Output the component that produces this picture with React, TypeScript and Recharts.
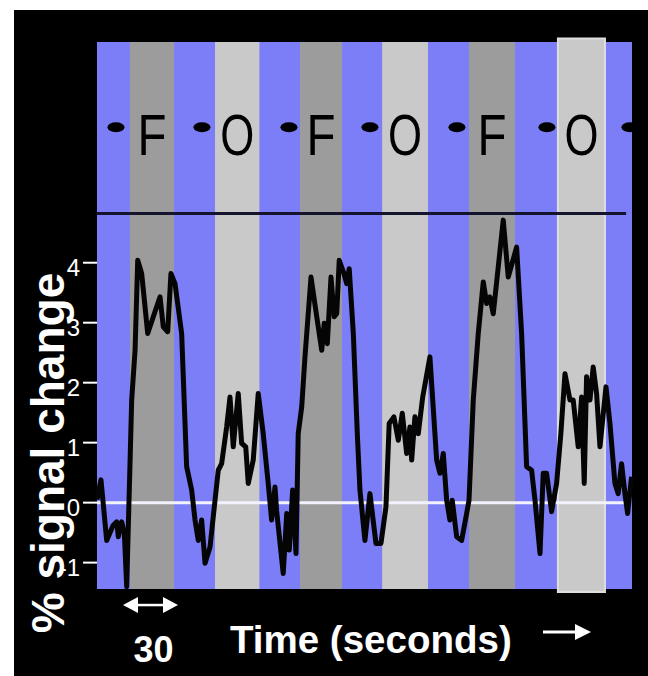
import React from 'react'
import { LineChart, Line, XAxis, YAxis, ReferenceArea, ReferenceLine, ReferenceDot } from 'recharts'

// time in seconds, % signal change
const times = [
  0, 2.7, 6.6, 10.9, 13.4, 14.5, 16.8, 18.6, 20.2, 22.4, 23.6, 25.9, 27.7, 30.4, 34.5, 38.3, 42.9, 45.1, 48.1, 50.3,
  53.1, 57.6, 61.0, 64.4, 66.7, 68.9, 71.2, 73.5, 76.9, 80.3, 82.5, 84.8, 88.2, 90.5, 92.7, 96.1, 98.4, 101.2, 102.9, 106.3,
  109.7, 113.1, 116.5, 118.8, 121.1, 122.2, 126.7, 129.1, 130.8, 133.1, 135.4, 136.9, 139.3, 141.5, 145.6, 149.5, 152.9, 154.6, 156.7, 159.2,
  161.4, 163.1, 164.8, 168.0, 169.9, 171.6, 174.4, 177.1, 178.9, 182.3, 185.7, 189.8, 193.2, 196.6, 198.8, 202.0, 205.0, 207.7, 210.7, 212.9,
  214.1, 216.3, 218.6, 221.6, 226.5, 231.1, 233.3, 235.6, 237.9, 240.1, 241.7, 244.7, 248.1, 251.5, 253.1, 256.0, 259.4, 262.8, 265.1, 267.3,
  269.6, 273.0, 276.4, 279.8, 285.5, 288.9, 292.3, 295.7, 298.0, 301.4, 303.6, 305.9, 309.3, 312.7, 315.6, 318.4, 321.8, 324.0, 327.4, 329.7,
  331.5, 333.1, 335.4, 337.6, 339.9, 342.2, 346.3, 349.0, 352.4, 354.6, 356.9, 359.2, 361.0, 363.7,
]
const signal = [
  0.05, 0.38, -0.63, -0.38, -0.32, -0.57, -0.32, -0.51, -1.4, 0.6, 1.71, 2.54, 4.04, 3.82, 2.82, 3.1, 3.43, 2.93, 2.85, 3.82,
  3.65, 2.82, 0.6, 0.21, -0.29, -0.63, -0.29, -1.01, -0.74, 0.04, 0.54, 0.65, 1.26, 1.76, 0.93, 1.82, 0.99, 0.93, 0.32, 0.71,
  1.82, 1.15, 0.32, -0.29, 0.26, -0.13, -1.18, -0.18, -0.79, 0.21, -0.85, 1.15, 1.6, 2.43, 3.76, 3.1, 2.54, 2.99, 2.65, 3.76,
  3.1, 3.15, 4.04, 3.82, 3.65, 3.9, 2.82, 1.15, 0.21, -0.63, 0.15, -0.68, -0.68, -0.07, 1.32, 1.43, 1.04, 1.49, 0.82, 1.26,
  0.71, 1.43, 1.15, 1.76, 2.43, 0.71, 0.49, 0.82, 0.04, -0.29, 0.04, -0.57, -0.63, -0.18, 0.04, 1.71, 2.82, 3.68, 3.32, 3.43,
  3.15, 3.93, 4.71, 3.76, 4.26, 2.82, 0.6, 0.54, 0.04, -0.85, 0.49, 0.49, -0.15, 0.32, 1.15, 2.15, 1.71, 1.71, 0.93, 1.76,
  0.32, 2.1, 1.71, 2.26, 1.82, 0.93, 1.93, 1.32, 0.32, 0.15, 0.65, 0.15, -0.18, 0.43,
]

// stimulus blocks (F / O) and rest markers
const blockLabels = ['F', 'O', 'F', 'O', 'F', 'O']
const blockStarts = [22.4, 80.3, 138.1, 194.0, 253.1, 313.6]
const blockEnds = [52.4, 110.5, 166.7, 225.2, 284.4, 345.6]
const restMarks = [12.9, 71.4, 130.6, 185.7, 244.9, 306.1, 362.6]

const yTicks = [-1, 0, 1, 2, 3, 4]
const timeDomain = [0, 364]
const signalDomain = [-1.44, 7.68]
const dividerLevel = 4.82
const lineEnd = 360
const labelLevel = 5.79
const markLevel = 6.26

const BLUE = '#7b7ef6'
const DARK = '#9c9c9c'
const LIGHT = '#c9c9c9'
const FONT = '"Liberation Sans", Arial, Helvetica, sans-serif'

const data = times.map((t, i) => ({ t, v: signal[i] }))

function YTick({ x, y, payload }: any) {
  return (
    <text x={x} y={y} dy={13} textAnchor="end" fill="#fff" fontSize={24} fontFamily={FONT}>
      {payload.value}
    </text>
  )
}

function BlockLetter(label: string) {
  return ({ cx, cy }: any) => (
    <text
      x={cx}
      y={cy}
      textAnchor="middle"
      fontSize={58}
      fontFamily={FONT}
      fill="#000"
      textLength={label === 'F' ? 29 : 34}
      lengthAdjust="spacingAndGlyphs"
    >
      {label}
    </text>
  )
}

function RestMark({ cx, cy }: any) {
  return <ellipse cx={cx} cy={cy} rx={8.5} ry={5} fill="#000" />
}

export default function App() {
  return (
    <div style={{ position: 'absolute', left: 0, top: 0, width: 648, height: 676, background: '#fff' }}>
      <div style={{ position: 'absolute', left: 14, top: 10, width: 634, height: 666, background: '#000' }} />
      <div style={{ position: 'absolute', left: 0, top: 0 }}>
        <LineChart width={648} height={676} data={data} margin={{ top: 42, right: 16, bottom: 87, left: 37 }}>
          <XAxis dataKey="t" type="number" domain={timeDomain} hide />
          <YAxis
            type="number"
            domain={signalDomain}
            ticks={yTicks}
            width={60}
            axisLine={false}
            tickSize={14}
            tickMargin={3}
            tickLine={{ stroke: '#fff', strokeWidth: 2 }}
            tick={<YTick />}
            allowDataOverflow
          />
          <ReferenceArea x1={timeDomain[0]} x2={timeDomain[1]} fill={BLUE} fillOpacity={1} stroke="none" />
          {blockLabels.map((b, i) =>
            i === blockLabels.length - 1 ? (
              <ReferenceArea
                key={`blk-${i}`}
                x1={blockStarts[i]}
                x2={blockEnds[i]}
                y1={-1.49}
                y2={7.74}
                ifOverflow="visible"
                fill={LIGHT}
                fillOpacity={1}
                stroke="#dedede"
                strokeWidth={2}
              />
            ) : (
              <ReferenceArea
                key={`blk-${i}`}
                x1={blockStarts[i]}
                x2={blockEnds[i]}
                fill={b === 'F' ? DARK : LIGHT}
                fillOpacity={1}
                stroke="none"
              />
            )
          )}
          <ReferenceLine
            segment={[{ x: 0, y: dividerLevel }, { x: lineEnd, y: dividerLevel }]}
            stroke="#14142e"
            strokeWidth={3}
          />
          <ReferenceLine
            segment={[{ x: 0, y: 0 }, { x: lineEnd, y: 0 }]}
            stroke="#f2f2ff"
            strokeWidth={3}
          />
          {blockLabels.map((b, i) => (
            <ReferenceDot
              key={`lbl-${i}`}
              x={(blockStarts[i] + blockEnds[i]) / 2}
              y={labelLevel}
              shape={BlockLetter(b)}
            />
          ))}
          {restMarks.map((m, i) => (
            <ReferenceDot key={`rest-${i}`} x={m} y={markLevel} ifOverflow="hidden" shape={RestMark} />
          ))}
          <Line
            type="linear"
            dataKey="v"
            stroke="#050505"
            strokeWidth={5}
            strokeLinejoin="round"
            dot={false}
            activeDot={false}
            isAnimationActive={false}
          />
        </LineChart>
      </div>
      <svg width={648} height={676} style={{ position: 'absolute', left: 0, top: 0, pointerEvents: 'none' }}>
        <text
          x={64}
          y={453}
          transform="rotate(-90 64 453)"
          textAnchor="middle"
          fill="#fff"
          fontSize={46}
          fontWeight="bold"
          fontFamily={FONT}
        >
          % signal change
        </text>
        <polygon points="123,605 138,597 138,613" fill="#fff" />
        <rect x={137} y={603.8} width={27} height={2.5} fill="#fff" />
        <polygon points="178,605 163,597 163,613" fill="#fff" />
        <text x={153.5} y={662} textAnchor="middle" fill="#fff" fontSize={36} fontWeight="bold" fontFamily={FONT}>
          30
        </text>
        <text x={230} y={653} fill="#fff" fontSize={38.5} fontWeight="bold" fontFamily={FONT}>
          Time (seconds)
        </text>
        <rect x={543} y={630.5} width={34} height={3} fill="#fff" />
        <polygon points="591,632 575,624 575,640" fill="#fff" />
      </svg>
    </div>
  )
}
